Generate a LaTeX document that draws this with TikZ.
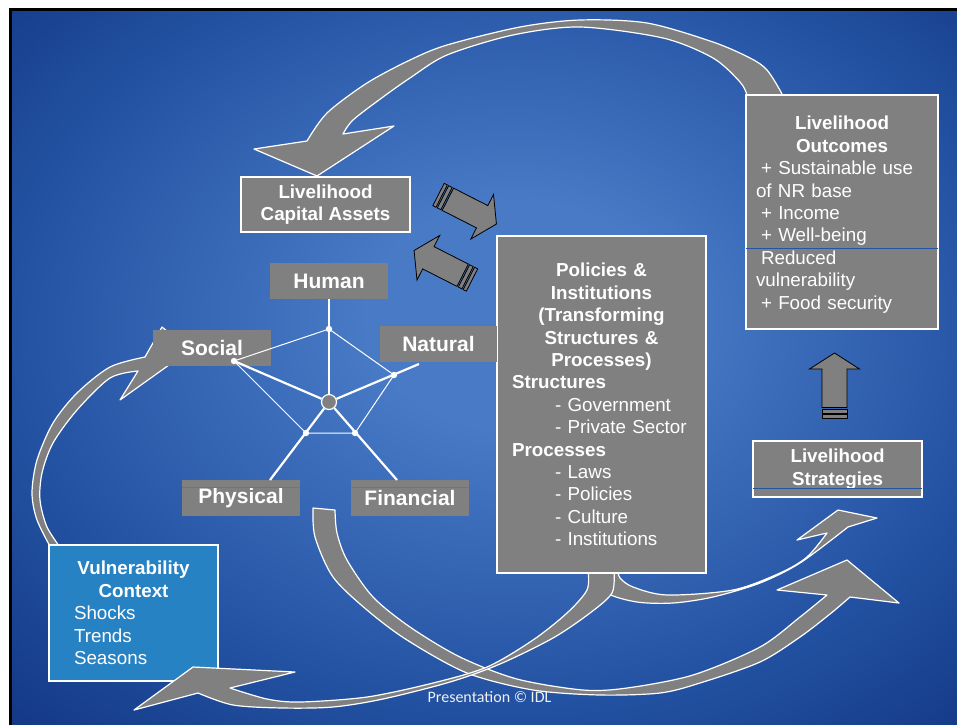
\documentclass[tikz,border=0pt]{standalone}
\usepackage{fontspec}
\setmainfont{Liberation Sans}
\newfontfamily\footfont{Carlito}
\usepackage{tikz}
\setlength{\parindent}{0pt}

\definecolor{bgin}{RGB}{72,122,198}
\definecolor{bgmid}{RGB}{35,82,162}
\definecolor{bgdark}{RGB}{10,42,118}
\definecolor{bgout}{RGB}{0,26,90}
\definecolor{vcblue}{RGB}{38,130,195}
\definecolor{seam}{RGB}{35,85,165}

\pgfdeclareradialshading{slidebg}{\pgfpoint{2bp}{4bp}}{color(0bp)=(bgin); color(8bp)=(bgin); color(26bp)=(bgmid); color(44bp)=(bgdark); color(58bp)=(bgout); color(75bp)=(bgout)}

\newcommand{\boxfont}[0]{\fontsize{9.4}{11.2}\selectfont}
\newcommand{\capfont}[0]{\fontsize{10.5}{12.6}\selectfont\bfseries}
\newcommand{\subind}[0]{\hspace*{21.5pt}}
\newcommand{\leadsp}[0]{\hspace*{2.5pt}}

% striped block arrow, tail at (#1,#2), pointing at angle #3
\newcommand{\stripedarrow}[3]{
  \begin{scope}[shift={(#1,#2)}, rotate=#3]
    \filldraw[smallarrow] (0,-12.5) rectangle (3.5,12.5);
    \filldraw[smallarrow] (5,-12.5) rectangle (9,12.5);
    \filldraw[smallarrow] (10.5,-12.5) -- (49,-12.5) -- (49,-25) -- (65,0) -- (49,25) -- (49,12.5) -- (10.5,12.5) -- cycle;
  \end{scope}}

\tikzset{
  capbox/.style={fill=gray, text=white, font=\capfont, inner sep=0pt, minimum width=59pt, minimum height=18pt},
  infobox/.style={fill=gray, draw=white, line width=0.6pt, text=white, font=\boxfont, inner sep=0pt},
  bigarrow/.style={fill=gray, draw=white, line width=0.6pt, line join=round},
  smallarrow/.style={fill=gray, draw=black, line width=0.4pt},
  spoke/.style={white, line width=1.1pt},
  web/.style={white, line width=0.5pt},
  dot/.style={circle, fill=white, inner sep=0pt, minimum size=3.2pt},
  seamline/.style={seam, line width=0.5pt}
}

\begin{document}
\begin{tikzpicture}[x=0.5pt, y=-0.5pt]
        \useasboundingbox (0,0) rectangle (957,724);
        \clip (0,0) rectangle (957,724);

        %slide
        \fill[white] (0,0) rectangle (957,724);
        \shade[shading=slidebg] (10,9) rectangle (957,724);
        \draw[black, line width=1.6pt] (10.5,730) -- (10.5,9.5) -- (960,9.5);

        %outcomes back to assets
        \draw[bigarrow] (317,176) -- (254,149) -- (307,141)
          -- plot[smooth] coordinates {(307,141) (327,113) (367,83) (410,60) (447,45) (520,27) (580,20) (647,23) (713,42) (750,58) (767,70) (782,94) (782,100)}
          -- plot[smooth] coordinates {(747,100) (747,95) (740,82) (713,58) (663,38) (580,27) (513,35) (447,55) (410,78) (383,97) (353,120) (343,134)}
          -- (394,126) -- cycle;

        %vulnerability up to social
        \draw[bigarrow] (162,327) -- (190,350) -- (120,400) -- (138,371)
          -- plot[smooth] coordinates {(138,371) (110,378) (77,410) (53,443) (42,473) (40,500) (47,527) (62,550)}
          -- plot[smooth] coordinates {(52,550) (37,520) (32,493) (37,460) (53,423) (77,393) (110,367) (145,357)}
          -- cycle;

        %assets round to strategies
        \draw[bigarrow] (313,508)
          -- plot[smooth] coordinates {(313,508) (315,537) (333,577) (367,610) (407,640) (467,673) (533,690) (600,695) (660,693) (700,683) (760,662) (800,637) (830,614) (850,597)}
          -- (899,603) -- (847,560) -- (777,590) -- (827,595)
          -- plot[smooth] coordinates {(827,595) (800,617) (760,647) (693,675) (627,688) (583,690) (517,679) (460,657) (410,627) (373,597) (347,560) (337,533) (335,510)}
          -- cycle;

        %policies to strategies
        \draw[bigarrow] (618,570)
          -- plot[smooth] coordinates {(618,570) (620,578) (633,587) (667,595) (733,590) (780,573) (807,557) (827,533)}
          -- (797,540) -- (838,510) -- (877,518) -- (848,527)
          -- plot[smooth] coordinates {(848,527) (800,563) (760,583) (713,597) (673,603) (637,602) (607,593) (592,573) (592,570)}
          -- cycle;

        \node[infobox, fill=vcblue, text width=74.5pt, inner xsep=5pt, minimum height=68pt, align=left] (vulner) at (133.5,613)
          {{\centering\bfseries Vulnerability\\ Context\par}
           \hspace*{7.5pt}Shocks\\ \hspace*{7.5pt}Trends\\ \hspace*{7.5pt}Seasons};

        %policies back to vulnerability
        \draw[bigarrow] (588,570)
          -- plot[smooth] coordinates {(588,570) (587,590) (567,613) (533,640) (487,667) (433,683) (367,697) (300,702) (267,699) (230,688)}
          -- (295,672) -- (193,667) -- (134,710) -- (198,693)
          -- plot[smooth] coordinates {(198,693) (233,705) (283,708) (333,707) (383,699) (450,682) (500,664) (553,638) (590,613) (612,593) (614,570)}
          -- cycle;

        %boxes
        \node[infobox, minimum width=84.5pt, minimum height=27.5pt, align=center, font=\boxfont\bfseries] (assets) at (325.5,204.5) {Livelihood\\Capital Assets};

        \node[infobox, text width=89.5pt, inner xsep=7.5pt, minimum height=168.5pt, align=left] (policies) at (601.5,404.5)
          {{\centering\bfseries Policies \&\\ Institutions\\ (Transforming\\ Structures \&\\ Processes)\par}
           \textbf{Structures}\\ \subind- Government\\ \subind- Private Sector\\
           \textbf{Processes}\\ \subind- Laws\\ \subind- Policies\\ \subind- Culture\\ \subind- Institutions};

        \node[infobox, text width=86pt, inner xsep=5pt, minimum height=117pt, align=left] (outcomes) at (842,212)
          {{\centering\bfseries\rule{0pt}{9.5pt}Livelihood\\ Outcomes\par}
           \leadsp+ Sustainable use\\ of NR base\\ \leadsp+ Income\\ \leadsp+ Well-being\\
           \leadsp Reduced\\ vulnerability\\ \leadsp+ Food security};

        \node[infobox, minimum width=84.5pt, minimum height=28pt, align=center, font=\boxfont\bfseries] (strategies) at (837.5,469) {Livelihood\\Strategies};

        \draw[seamline] ([xshift=0.4pt, yshift=40.5pt]outcomes.south west) -- ([xshift=-0.4pt, yshift=40.5pt]outcomes.south east);
        \draw[seamline] ([xshift=0.4pt, yshift=4.5pt]strategies.south west) -- ([xshift=-0.4pt, yshift=4.5pt]strategies.south east);

        %capitals
        \node[capbox] (human) at (329,281) {Human};
        \node[capbox] (social) at (212,348) {Social};
        \node[capbox, minimum width=58.5pt] (natural) at (438.5,344) {Natural};
        \node[capbox] (physical) at (241,498) {Physical};
        \node[capbox] (financial) at (410,498) {Financial};

        \draw[seamline, bgin, line width=0.8pt] ([yshift=-4pt]physical.north west) -- ([yshift=-4pt]physical.north east);
        \draw[seamline, bgin, line width=0.8pt] ([yshift=-4pt]financial.north west) -- ([yshift=-4pt]financial.north east);

        %the pentagon
        \coordinate (pHum) at (329,329);
        \coordinate (pSoc) at (234,361);
        \coordinate (pNat) at (394,375);
        \coordinate (pPhy) at (306,433);
        \coordinate (pFin) at (355,433);
        \coordinate (natEnd) at (419,364);
        \coordinate (phyEnd) at (270,480);
        \coordinate (finEnd) at (397,480);

        \node[circle, fill=gray, draw=white, line width=0.6pt, minimum size=7.5pt, inner sep=0pt] (hub) at (329,402) {};

        \draw[spoke] (hub) -- (human.south);
        \draw[spoke] (hub) -- (pSoc);
        \draw[spoke] (hub) -- (natEnd);
        \draw[spoke] (hub) -- (phyEnd);
        \draw[spoke] (hub) -- (finEnd);
        \draw[web] (pHum) -- (pSoc) -- (pPhy) -- (pFin) -- (pNat) -- cycle;

        \node[dot] (dHum) at (pHum) {};
        \node[dot] (dSoc) at (pSoc) {};
        \node[dot] (dNat) at (pNat) {};
        \node[dot] (dPhy) at (pPhy) {};
        \node[dot] (dFin) at (pFin) {};

        %exchange arrows
        \stripedarrow{438.5}{194.5}{-27}
        \stripedarrow{472}{280}{153}
        \stripedarrow{834.5}{418}{90}

        \node[text=white!88!gray, font=\footfont\fontsize{8}{9.6}\selectfont] (credit) at (489.5,697) {Presentation © IDL};
\end{tikzpicture}
\end{document}
